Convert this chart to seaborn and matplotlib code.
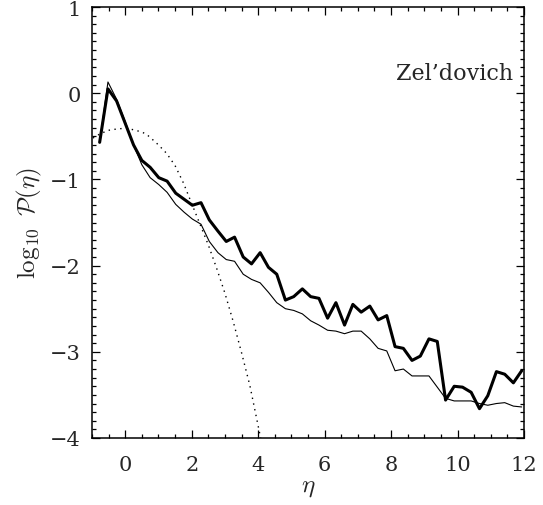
import numpy as np
import pandas as pd
import matplotlib
matplotlib.use("Agg")
import matplotlib.pyplot as plt
import seaborn as sns
from matplotlib.ticker import MultipleLocator

# ---- data ----
eta = [-0.77, -0.52, -0.26, -0.01, 0.25, 0.50, 0.75, 1.01, 1.26, 1.52,
       1.77, 2.02, 2.28, 2.53, 2.79, 3.04, 3.29, 3.55, 3.80, 4.06,
       4.31, 4.56, 4.82, 5.07, 5.33, 5.58, 5.83, 6.09, 6.34, 6.60,
       6.85, 7.10, 7.36, 7.61, 7.87, 8.12, 8.37, 8.63, 8.88, 9.14,
       9.39, 9.64, 9.90, 10.15, 10.41, 10.66, 10.91, 11.17, 11.42, 11.68,
       11.93]

thick = [-0.57, 0.05, -0.09, -0.34, -0.60, -0.78, -0.86, -0.98, -1.02, -1.16,
         -1.23, -1.30, -1.27, -1.47, -1.60, -1.72, -1.67, -1.90, -1.98, -1.85,
         -2.02, -2.10, -2.40, -2.36, -2.27, -2.36, -2.38, -2.61, -2.43, -2.69,
         -2.45, -2.54, -2.47, -2.63, -2.58, -2.94, -2.96, -3.10, -3.05, -2.85,
         -2.88, -3.56, -3.40, -3.41, -3.47, -3.66, -3.51, -3.23, -3.26, -3.36,
         -3.22]

thin = [-0.57, 0.13, -0.07, -0.32, -0.60, -0.83, -0.98, -1.06, -1.15, -1.29,
        -1.38, -1.46, -1.52, -1.72, -1.85, -1.93, -1.95, -2.10, -2.16, -2.20,
        -2.31, -2.43, -2.50, -2.52, -2.56, -2.64, -2.69, -2.75, -2.76, -2.79,
        -2.76, -2.76, -2.85, -2.96, -2.99, -3.22, -3.20, -3.28, -3.28, -3.28,
        -3.41, -3.54, -3.57, -3.57, -3.57, -3.60, -3.62, -3.60, -3.59, -3.63,
        -3.64]

eta_gauss = [-0.97, -0.75, -0.5, -0.25, -0.1, 0.1, 0.3, 0.5, 0.65, 0.8, 1.0, 1.25, 1.5, 1.75,
             2.0, 2.25, 2.5, 2.75, 3.0, 3.25, 3.5, 3.75, 4.0, 4.1]
gauss = [-0.52, -0.47, -0.43, -0.415, -0.41, -0.41, -0.43, -0.45, -0.48, -0.53, -0.60,
         -0.70, -0.84, -1.04, -1.28, -1.52, -1.76, -2.03, -2.32, -2.65, -3.01,
         -3.39, -3.86, -4.05]

xticks = [0, 2, 4, 6, 8, 10, 12]
yticks = [-4, -3, -2, -1, 0, 1]

df_thick = pd.DataFrame({"eta": eta, "logP": thick})
df_thin = pd.DataFrame({"eta": eta, "logP": thin})
df_gauss = pd.DataFrame({"eta": eta_gauss, "logP": gauss})

sns.set_style("ticks")
plt.rcParams["font.family"] = ["DejaVu Serif", "DejaVu Sans"]
plt.rcParams["mathtext.fontset"] = "cm"

fig = plt.figure(figsize=(5.43, 5.06), dpi=100)
ax = fig.add_axes([92 / 543, 67 / 506, 432 / 543, 431 / 506])

sns.lineplot(data=df_gauss, x="eta", y="logP", ax=ax, sort=False, estimator=None,
             color="black", lw=1.0, linestyle=(0, (1, 3.2)))
sns.lineplot(data=df_thin, x="eta", y="logP", ax=ax, sort=False, estimator=None,
             color="black", lw=0.8)
sns.lineplot(data=df_thick, x="eta", y="logP", ax=ax, sort=False, estimator=None,
             color="black", lw=2.2)

ax.set_xlim(-1, 12)
ax.set_ylim(-4, 1)
ax.set_xticks(xticks)
ax.set_yticks(yticks)
ax.xaxis.set_minor_locator(MultipleLocator(0.5))
ax.yaxis.set_minor_locator(MultipleLocator(0.1))
ax.tick_params(which="both", direction="in", top=True, right=True, width=0.9,
               color="black", labelsize=15)
ax.tick_params(which="major", length=6)
ax.tick_params(which="minor", length=3.2)
ax.tick_params(axis="x", which="major", pad=12)
ax.tick_params(axis="y", which="major", pad=8)
for s in ax.spines.values():
    s.set_linewidth(1.1)
    s.set_color("black")

ax.set_xlabel(r"$\eta$", fontsize=18, labelpad=1)
ax.set_ylabel(r"$\log_{10}\ \mathcal{P}(\eta)$", fontsize=18, labelpad=4)
ax.text(0.975, 0.848, "Zel\u2019dovich", transform=ax.transAxes, ha="right",
        va="center", fontsize=16)

fig.savefig("out.png", dpi=100)
